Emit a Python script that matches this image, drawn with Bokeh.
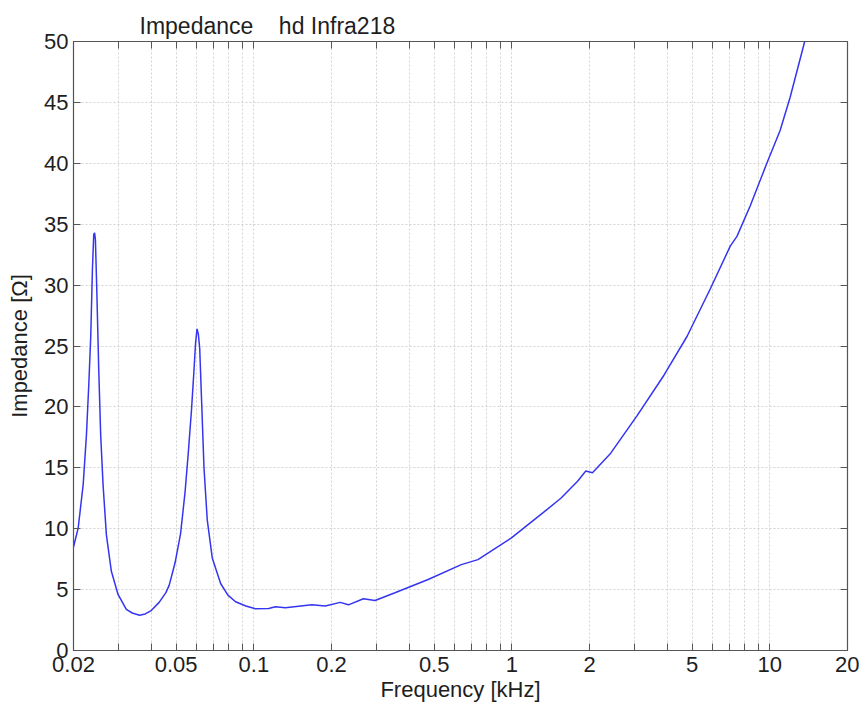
from bokeh.plotting import figure
from bokeh.models import Range1d, FixedTicker, LinearAxis, LogAxis, Title
from bokeh.embed import file_html
from bokeh.resources import INLINE

# Frequency in kHz, impedance in ohm
freq_khz = [0.02000, 0.02085, 0.02180, 0.02245, 0.02292, 0.02333, 0.02368, 0.02396,
            0.02415, 0.02432, 0.02460, 0.02505, 0.02549, 0.02604, 0.02682, 0.02804,
            0.02976, 0.03204, 0.03379, 0.03606, 0.03793, 0.04002, 0.04296, 0.04561,
            0.04697, 0.04951,
            0.05201, 0.05413, 0.05584, 0.05735, 0.05854, 0.05943, 0.06023, 0.06093,
            0.06169, 0.06279, 0.06409, 0.06600, 0.06900, 0.07435, 0.07934, 0.08495,
            0.09310, 0.1015,
            0.1142, 0.1213, 0.1325, 0.1679, 0.1891, 0.2161, 0.2327, 0.2658,
            0.2950, 0.3524, 0.4738, 0.6370, 0.7390, 0.9936, 1.337, 1.549,
            1.798, 1.935, 2.054, 2.417, 3.064, 3.887, 4.780, 5.880,
            7.024, 7.457, 8.390, 9.736, 10.96, 11.98, 13.61, 14.14]
impedance = [8.5, 10.05, 13.6, 17.7, 21.8, 25.8, 31.3, 34.15,
             34.3, 33.7, 29.9, 23.1, 17.7, 13.6, 9.5, 6.5,
             4.6, 3.37, 3.08, 2.9, 3.0, 3.28, 3.95, 4.75,
             5.35, 7.2,
             9.6, 13.0, 16.5, 19.8, 22.8, 25.2, 26.4, 26.0,
             24.8, 20.3, 15.0, 10.7, 7.6, 5.5, 4.55, 4.0,
             3.65, 3.42,
             3.45, 3.6, 3.51, 3.75, 3.65, 3.95, 3.75, 4.25,
             4.1, 4.74, 5.83, 7.05, 7.46, 9.23, 11.4, 12.5,
             13.9, 14.73, 14.6, 16.2, 19.3, 22.6, 25.8, 29.7,
             33.2, 34.0, 36.5, 40.0, 42.7, 45.4, 49.9, 51.0]

x_major = [0.02, 0.05, 0.1, 0.2, 0.5, 1, 2, 5, 10, 20]
x_labels = ["0.02", "0.05", "0.1", "0.2", "0.5", "1", "2", "5", "10", "20"]
x_minor = [0.03, 0.04, 0.06, 0.07, 0.08, 0.09,
           0.3, 0.4, 0.6, 0.7, 0.8, 0.9,
           3, 4, 6, 7, 8, 9]
y_major = [0, 5, 10, 15, 20, 25, 30, 35, 40, 45, 50]

FONT = "Liberation Sans"
AX_COLOR = "#555555"
TXT = "#1e1e1e"
GRID = "#d2d2d2"

p = figure(width=859, height=708, x_axis_type="log",
           x_range=Range1d(0.02, 20), y_range=Range1d(0, 50),
           output_backend="svg", toolbar_location=None,
           min_border_left=73, min_border_right=12,
           min_border_top=41, min_border_bottom=58)

p.title = Title(text="Impedance\u00a0\u00a0\u00a0\u00a0hd Infra218", align="left", offset=66,
                text_font=FONT, text_font_size="23px", text_font_style="normal",
                text_color=TXT, standoff=5)

p.line(freq_khz, impedance, line_color="#3535f0", line_width=1.5)

xt = FixedTicker(ticks=x_major, minor_ticks=x_minor)
yt = FixedTicker(ticks=y_major)

def style(ax, show_labels=True):
    ax.axis_line_color = AX_COLOR
    ax.axis_line_width = 1.2
    ax.major_tick_in = 7
    ax.major_tick_out = 0
    ax.minor_tick_in = 7
    ax.minor_tick_out = 0
    ax.major_tick_line_color = AX_COLOR
    ax.minor_tick_line_color = AX_COLOR
    ax.major_label_text_font = FONT
    if show_labels:
        ax.major_label_text_font_size = "22px"
        ax.major_label_text_color = TXT
    else:
        ax.major_label_text_font_size = "1px"
        ax.major_label_text_color = None
        ax.major_label_standoff = 0

xa = p.xaxis[0]
xa.ticker = xt
xa.major_label_overrides = {v: s for v, s in zip(x_major, x_labels)}
style(xa)
xa.major_label_standoff = 6
xa.axis_label = "Frequency [kHz]"
xa.axis_label_text_font = FONT
xa.axis_label_text_font_size = "22px"
xa.axis_label_text_font_style = "normal"
xa.axis_label_text_color = TXT
xa.axis_label_standoff = 2

ya = p.yaxis[0]
ya.ticker = yt
style(ya)
ya.minor_tick_in = 0
ya.major_label_standoff = 5
ya.axis_label = "Impedance [Ω]"
ya.axis_label_text_font = FONT
ya.axis_label_text_font_size = "22px"
ya.axis_label_text_font_style = "normal"
ya.axis_label_text_color = TXT
ya.axis_label_standoff = 9

top = LogAxis(ticker=xt)
style(top, show_labels=False)
p.add_layout(top, "above")

right = LinearAxis(ticker=yt)
style(right, show_labels=False)
right.minor_tick_in = 0
p.add_layout(right, "right")

p.xgrid.ticker = xt
p.ygrid.ticker = yt
for g in (p.xgrid[0], p.ygrid[0]):
    g.grid_line_color = GRID
    g.grid_line_dash = "2 2"
    g.grid_line_width = 1
p.xgrid[0].minor_grid_line_color = GRID
p.xgrid[0].minor_grid_line_dash = "2 2"
p.xgrid[0].minor_grid_line_width = 1

p.outline_line_color = AX_COLOR
p.background_fill_color = "white"
p.border_fill_color = "white"

open("out.html", "w").write(file_html(p, INLINE))
